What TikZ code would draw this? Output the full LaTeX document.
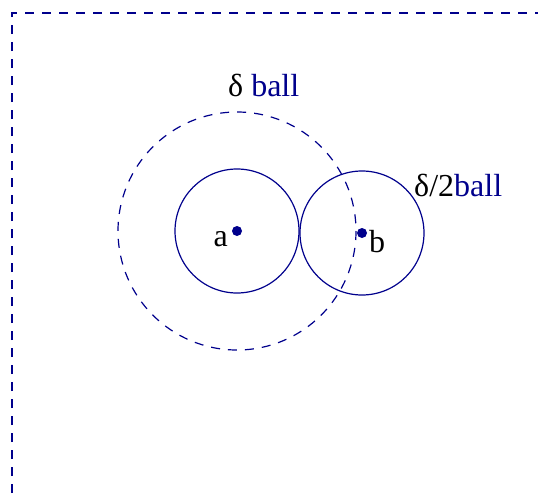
\documentclass[tikz,border=0pt]{standalone}
\usepackage{fontspec}
\setmainfont{Liberation Serif}
\begin{document}
\begin{tikzpicture}[x=1pt,y=-1pt,
  navy/.style={draw={rgb,255:red,0;green,0;blue,140}, line width=1.2pt},
  dsh/.style={dash pattern=on 9pt off 8pt},
  lbl/.style={font=\fontsize{32}{32}\selectfont, inner sep=0pt}]
\definecolor{nv}{RGB}{0,0,140}
\useasboundingbox (0,0) rectangle (538,493);
\draw[navy,dsh] (12,493) -- (12,13) -- (538,13);
\coordinate (a) at (237,231);
\coordinate (b) at (362,233);
\draw[navy,dsh] (a) circle[radius=119];
\draw[navy] (a) circle[radius=62];
\draw[navy] (b) circle[radius=62];
\fill[nv] (a) circle[radius=5];
\fill[nv] (b) circle[radius=5];
\node[lbl, anchor=base east] (la) at (228,246) {a};
\node[lbl, anchor=base west] (lb) at (369,252) {b};
\node[lbl, anchor=base west] (ld) at (228,96) {δ \textcolor{nv}{ball}};
\node[lbl, anchor=base west] (ld2) at (414,196) {δ/2\textcolor{nv}{ball}};
\end{tikzpicture}
\end{document}
